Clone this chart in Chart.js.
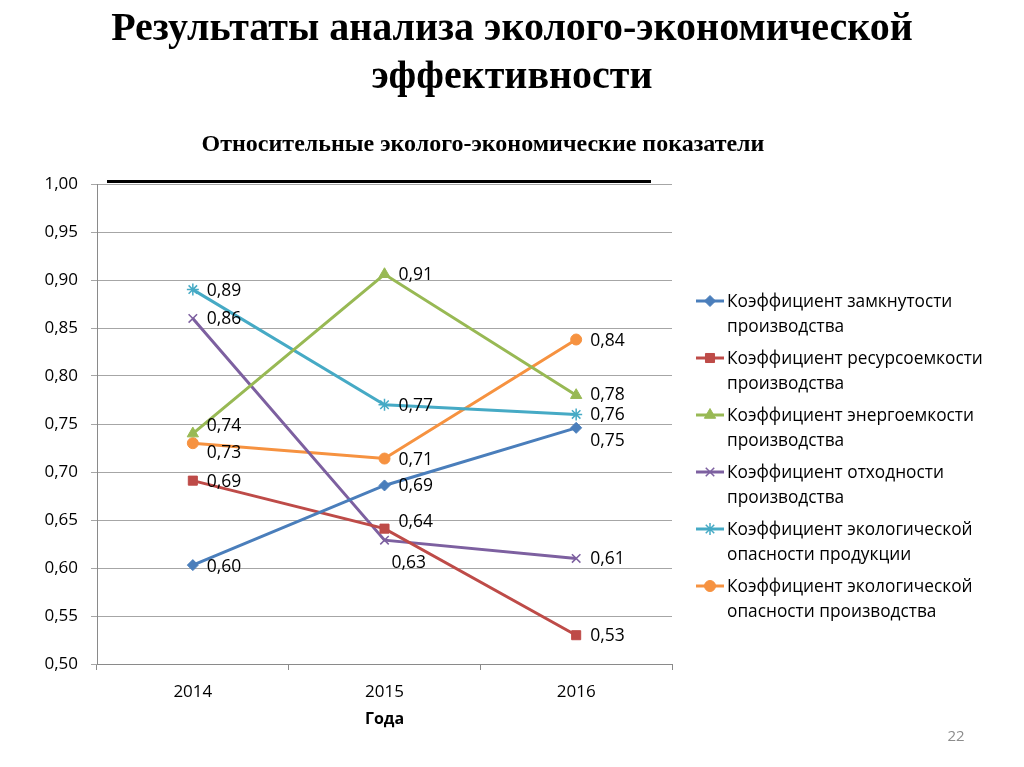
<!DOCTYPE html>
<html><head><meta charset="utf-8">
<script src="https://cdn.jsdelivr.net/npm/chart.js@4/dist/chart.umd.min.js"></script>
<style>
html,body{margin:0;padding:0;background:#fff;width:1024px;height:767px;overflow:hidden;}
canvas{position:absolute;left:0;top:0;}
#t1{position:absolute;left:0;width:1024px;top:3px;text-align:center;font:bold 40px "Liberation Serif";line-height:48px;color:#000;}
#t2{position:absolute;left:0;width:966px;top:130px;text-align:center;font:bold 24px "Liberation Serif";color:#000;}
#bar{position:absolute;left:107px;top:180px;width:544px;height:3px;background:#000;}
#pg{position:absolute;left:931px;top:725px;width:50px;text-align:center;font:15px "Open Sans";color:#8c8c8c;}
</style></head>
<body>
<canvas id="c" width="1024" height="767"></canvas>
<div id="t1">Результаты анализа эколого-экономической<br>эффективности</div>
<div id="t2">Относительные эколого-экономические показатели</div>
<div id="bar"></div>
<div id="pg">22</div>
<script>
const categories = ['2014', '2015', '2016'];
const seriesNames = [
  'Коэффициент замкнутости производства',
  'Коэффициент ресурсоемкости производства',
  'Коэффициент энергоемкости производства',
  'Коэффициент отходности производства',
  'Коэффициент экологической опасности продукции',
  'Коэффициент экологической опасности производства'
];
const closure = [0.603, 0.686, 0.746];
const resourceIntensity = [0.691, 0.641, 0.530];
const energyIntensity = [0.740, 0.906, 0.780];
const wasteRatio = [0.860, 0.629, 0.610];
const productHazard = [0.890, 0.770, 0.760];
const productionHazard = [0.730, 0.714, 0.838];
const yMin = 0.5, yMax = 1.0, yStep = 0.05;
const xAxisTitle = 'Года';

const seriesValues = [closure, resourceIntensity, energyIntensity, wasteRatio, productHazard, productionHazard];
const styles = [
  {color: '#4A7EBB', point: 'rectRot', r: 5.5, bw: 1},
  {color: '#BE4B48', point: 'rect', r: 6.4, bw: 1},
  {color: '#98B954', point: 'triangle', r: 6.5, bw: 1},
  {color: '#7D60A0', point: 'crossRot', r: 6, bw: 1.5},
  {color: '#46AAC5', point: 'star', r: 6, bw: 1.5},
  {color: '#F69240', point: 'circle', r: 5.5, bw: 1}
];
// label offsets (dx, dy) relative to the point, per "series-index"
const labelShift = {'0-0':[14,2],'0-1':[14,1],'0-2':[14,13],'1-0':[14,1],'1-1':[14,-7],'2-0':[14,-8],'2-2':[14,0],'3-1':[7,23],'5-0':[14,10]};
const FONT = '"Open Sans", "Noto Sans", sans-serif';
const fmt = v => v.toFixed(2).replace('.', ',');

const dataLabels = {
  id: 'dataLabels',
  afterDatasetsDraw(chart) {
    const ctx = chart.ctx;
    ctx.save();
    ctx.font = '17.5px ' + FONT;
    ctx.fillStyle = '#000';
    ctx.textAlign = 'left';
    ctx.textBaseline = 'middle';
    chart.data.datasets.forEach((ds, i) => {
      chart.getDatasetMeta(i).data.forEach((pt, j) => {
        const s = labelShift[i + '-' + j] || [14, 1];
        ctx.fillText(fmt(ds.data[j]), pt.x + s[0], pt.y + s[1]);
      });
    });
    ctx.restore();
  }
};

const sideLegend = {
  id: 'sideLegend',
  afterDraw(chart) {
    const ctx = chart.ctx;
    ctx.save();
    ctx.font = '17.3px ' + FONT;
    ctx.textBaseline = 'middle';
    ctx.textAlign = 'left';
    const x0 = 696, x1 = 724, tx = 727, maxW = 285;
    chart.data.datasets.forEach((ds, i) => {
      const y = 301 + 57 * i;
      ctx.strokeStyle = ds.borderColor;
      ctx.lineWidth = 3;
      ctx.beginPath(); ctx.moveTo(x0, y); ctx.lineTo(x1, y); ctx.stroke();
      ctx.fillStyle = ds.borderColor;
      ctx.lineWidth = ds.pointBorderWidth;
      Chart.helpers.drawPoint(ctx, {pointStyle: ds.pointStyle, radius: ds.pointRadius, rotation: 0, borderWidth: ds.pointBorderWidth}, (x0 + x1) / 2, y);
      const words = ds.label.split(' ');
      const lines = [];
      let cur = '';
      words.forEach(w => {
        const t = cur ? cur + ' ' + w : w;
        if (ctx.measureText(t).width > maxW && cur) { lines.push(cur); cur = w; } else cur = t;
      });
      lines.push(cur);
      ctx.fillStyle = '#000';
      lines.forEach((l, k) => ctx.fillText(l, tx, y + 1 + k * 25));
    });
    ctx.restore();
  }
};

new Chart(document.getElementById('c'), {
  type: 'line',
  data: {
    labels: categories,
    datasets: seriesValues.map((vals, i) => ({
      label: seriesNames[i],
      data: vals,
      borderColor: styles[i].color,
      backgroundColor: styles[i].color,
      pointBackgroundColor: styles[i].color,
      pointBorderColor: styles[i].color,
      borderWidth: 3,
      pointStyle: styles[i].point,
      pointRadius: styles[i].r,
      pointBorderWidth: styles[i].bw,
      tension: 0,
      fill: false
    }))
  },
  options: {
    responsive: false,
    animation: false,
    devicePixelRatio: 1,
    layout: {padding: {left: 37, right: 352, top: 184, bottom: 38}},
    plugins: {legend: {display: false}, tooltip: {enabled: false}, title: {display: false}},
    scales: {
      x: {
        type: 'category',
        offset: true,
        grid: {offset: true, drawOnChartArea: false, drawTicks: true, tickLength: 6, color: '#8a8a8a'},
        border: {color: '#8a8a8a', width: 1},
        ticks: {font: {family: FONT, size: 17}, color: '#000', padding: 12, maxRotation: 0},
        title: {display: true, text: xAxisTitle, font: {family: FONT, size: 16, weight: 'bold'}, color: '#000', padding: 0},
        afterFit(scale) { scale.height = 65; }
      },
      y: {
        min: yMin, max: yMax,
        grid: {color: '#a6a6a6', drawTicks: true, tickLength: 6},
        border: {color: '#8a8a8a', width: 1},
        ticks: {stepSize: yStep, font: {family: FONT, size: 17}, color: '#000', padding: 13, callback: v => fmt(v)},
        afterFit(scale) { scale.width = 60; }
      }
    }
  },
  plugins: [dataLabels, sideLegend]
});
</script>
</body></html>
